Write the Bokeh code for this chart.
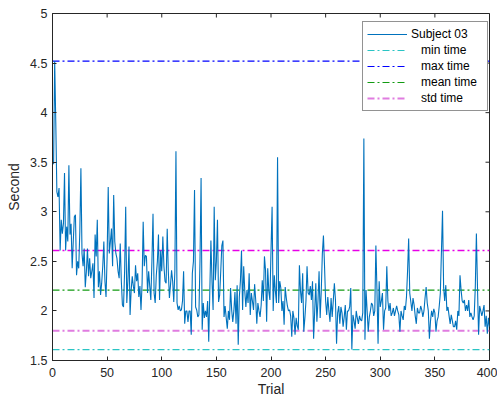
import math
from bokeh.plotting import figure
from bokeh.models import Range1d, Legend, LegendItem, FixedTicker
from bokeh.embed import file_html
from bokeh.resources import INLINE

# ---- data ----
trials = list(range(1, 401))
times = [
    3.48, 4.52, 3.90, 3.20, 3.15, 3.24, 2.61, 2.92, 2.78, 2.88,
    3.39, 2.61, 2.85, 2.70, 3.47, 2.77, 2.88, 2.43, 2.70, 2.95,
    2.97, 2.36, 2.50, 2.43, 2.80, 3.44, 2.58, 2.45, 2.63, 2.24,
    2.40, 2.63, 2.35, 2.53, 2.33, 2.40, 2.48, 2.13, 2.77, 2.55,
    2.92, 2.24, 2.40, 2.16, 2.28, 2.45, 2.70, 2.30, 2.14, 2.55,
    3.25, 2.58, 2.70, 2.83, 2.45, 3.17, 2.70, 2.58, 2.53, 2.40,
    2.33, 2.68, 2.30, 2.06, 2.04, 2.40, 3.05, 2.08, 2.30, 2.65,
    1.96, 2.21, 2.35, 2.25, 2.18, 2.46, 2.30, 2.38, 2.14, 2.25,
    2.01, 2.28, 2.90, 2.45, 2.56, 2.55, 2.18, 2.40, 2.25, 2.11,
    2.50, 2.98, 2.18, 2.08, 2.36, 2.50, 2.77, 2.11, 2.61, 2.40,
    2.75, 2.45, 2.30, 2.28, 2.83, 2.40, 2.13, 2.26, 2.41, 2.30,
    2.09, 2.40, 3.61, 2.08, 2.01, 2.05, 2.00, 2.01, 2.10, 2.40,
    1.87, 2.00, 2.00, 1.89, 2.00, 2.00, 1.76, 2.38, 2.50, 3.22,
    2.04, 2.01, 1.94, 1.96, 2.50, 3.34, 1.81, 2.08, 1.93, 2.00,
    1.94, 2.10, 1.69, 2.20, 2.71, 2.30, 2.01, 3.05, 2.31, 2.50,
    2.92, 2.09, 2.16, 2.40, 2.66, 2.71, 1.94, 2.05, 1.93, 1.82,
    2.00, 1.91, 2.23, 2.01, 1.89, 2.00, 2.19, 1.87, 2.26, 1.66,
    2.14, 2.30, 2.61, 2.01, 2.45, 2.20, 2.04, 2.21, 2.08, 2.38,
    1.96, 2.18, 2.10, 2.01, 2.27, 2.11, 1.87, 2.08, 2.00, 1.94,
    2.06, 2.31, 2.10, 2.55, 2.41, 1.89, 2.43, 2.20, 2.11, 2.61,
    3.05, 2.00, 2.36, 2.20, 2.08, 3.55, 2.08, 2.30, 2.23, 2.00,
    2.10, 1.86, 2.24, 2.13, 2.05, 2.00, 2.01, 1.95, 1.74, 2.00,
    1.93, 1.76, 1.93, 1.85, 1.81, 2.46, 2.20, 2.08, 2.38, 1.79,
    1.93, 2.10, 2.45, 2.18, 2.16, 2.25, 2.11, 2.30, 1.72, 2.00,
    2.28, 1.89, 2.10, 2.40, 1.93, 2.20, 2.58, 2.76, 2.45, 2.10,
    1.96, 2.14, 2.00, 1.89, 2.13, 1.94, 2.10, 2.28, 2.11, 1.67,
    1.98, 2.05, 1.87, 2.04, 1.98, 1.84, 1.94, 2.06, 1.81, 2.00,
    2.00, 2.04, 2.23, 1.61, 1.96, 1.90, 1.82, 2.00, 1.93, 1.87,
    1.95, 1.91, 1.90, 1.98, 3.74, 1.71, 2.21, 2.00, 1.79, 1.94,
    2.00, 2.08, 2.06, 1.95, 2.00, 2.66, 2.20, 1.67, 2.30, 2.04,
    2.10, 2.18, 1.81, 2.00, 2.03, 2.45, 2.10, 2.00, 2.08, 1.95,
    1.98, 2.03, 1.95, 2.00, 2.05, 2.00, 1.96, 1.79, 2.00, 1.95,
    1.91, 2.05, 2.01, 2.14, 2.40, 2.73, 2.18, 2.09, 2.00, 2.13,
    2.06, 1.95, 1.87, 2.03, 1.98, 1.98, 2.05, 2.01, 1.94, 2.00,
    2.13, 2.24, 2.08, 2.00, 1.72, 1.90, 2.00, 1.94, 2.02, 1.98,
    1.79, 1.90, 1.94, 2.05, 2.18, 2.60, 3.01, 2.24, 2.10, 2.26,
    2.00, 2.04, 1.95, 1.87, 1.96, 1.90, 1.84, 1.84, 1.90, 1.81,
    2.00, 1.95, 2.36, 2.21, 2.10, 2.08, 2.11, 2.00, 2.06, 2.00,
    2.11, 1.94, 1.98, 1.94, 1.91, 1.95, 2.24, 2.78, 2.24, 1.76,
    2.05, 2.00, 1.95, 2.00, 2.06, 1.84, 1.95, 1.77, 1.93, 1.84,
]
min_time = 1.61
max_time = 4.52
mean_time = 2.21
std_upper = 2.61
std_lower = 1.80
line_span = [0, 400]
x_ticks = [0, 50, 100, 150, 200, 250, 300, 350, 400]
y_ticks = [1.5, 2, 2.5, 3, 3.5, 4, 4.5, 5]
x_max = 400
y_max = 5
series_label = "Subject 03"
legend_labels = ["\u00a0\u00a0\u00a0min time", "\u00a0\u00a0\u00a0max time",
                 "\u00a0\u00a0\u00a0mean time", "\u00a0\u00a0\u00a0std time"]

FONT = "Liberation Sans"
TXT = "#262626"

p = figure(width=497, height=401, output_backend="svg", toolbar_location=None,
           x_range=Range1d(0, 400), y_range=Range1d(1.5, 5),
           min_border_left=52, min_border_right=8, min_border_top=13, min_border_bottom=41,
           background_fill_color="white", border_fill_color="white")
p.xgrid.visible = False
p.ygrid.visible = False
p.outline_line_color = TXT
p.outline_line_width = 1

DASH = "7 3 2 3"
r_min = p.line(line_span, [min_time, min_time], line_color="#2ac4c4", line_width=1.2, line_dash=DASH)
r_max = p.line(line_span, [max_time, max_time], line_color="#0000ff", line_width=1.2, line_dash=DASH)
r_mean = p.line(line_span, [mean_time, mean_time], line_color="#129b12", line_width=1.2, line_dash=DASH)
r_stdu = p.line(line_span, [std_upper, std_upper], line_color="#e600e6", line_width=1.4, line_dash=DASH)
r_stdl = p.line(line_span, [std_lower, std_lower], line_color="#e07ce0", line_width=2.2, line_dash=DASH)
r_sub = p.line(trials, times, line_color="#0072bd", line_width=1.1)

# inward ticks on the top and right edges of the box (clipped to the frame)
p.scatter(x_ticks, [y_max] * len(x_ticks), marker="dash", size=8, angle=math.pi / 2,
          line_color=TXT, line_width=1)
p.scatter([x_max] * len(y_ticks), y_ticks, marker="dash", size=8,
          line_color=TXT, line_width=1)

for ax in (p.xaxis[0], p.yaxis[0]):
    ax.major_tick_in = 4
    ax.major_tick_out = 0
    ax.minor_tick_line_color = None
    ax.axis_line_color = TXT
    ax.major_tick_line_color = TXT
    ax.major_label_text_color = TXT
    ax.major_label_text_font = FONT
    ax.major_label_text_font_size = "12.5px"
    ax.axis_label_text_font = FONT
    ax.axis_label_text_font_size = "14px"
    ax.axis_label_text_font_style = "normal"
    ax.axis_label_text_color = TXT

p.xaxis.ticker = FixedTicker(ticks=x_ticks)
p.yaxis.ticker = FixedTicker(ticks=y_ticks)
p.xaxis.axis_label = "Trial"
p.yaxis.axis_label = "Second"
p.xaxis.major_label_standoff = 7
p.yaxis.major_label_standoff = 5
p.xaxis.axis_label_standoff = 1
p.yaxis.axis_label_standoff = 5

legend = Legend(items=[
    LegendItem(label=series_label, renderers=[r_sub]),
    LegendItem(label=legend_labels[0], renderers=[r_min]),
    LegendItem(label=legend_labels[1], renderers=[r_max]),
    LegendItem(label=legend_labels[2], renderers=[r_mean]),
    LegendItem(label=legend_labels[3], renderers=[r_stdl]),
], location=(310, 249))
legend.label_text_font = FONT
legend.label_text_font_size = "12px"
legend.label_text_color = "black"
legend.glyph_width = 40
legend.glyph_height = 16
legend.label_height = 16
legend.label_standoff = 4
legend.label_width = 72
legend.spacing = 0
legend.padding = 4
legend.margin = 0
legend.border_line_color = TXT
legend.border_line_width = 1
legend.background_fill_color = "white"
legend.background_fill_alpha = 1
p.add_layout(legend, "center")

open("out.html", "w").write(file_html(p, INLINE))
